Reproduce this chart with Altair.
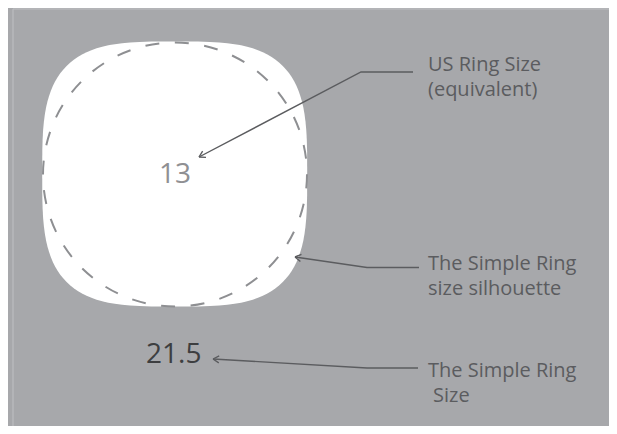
import math
import numpy as np
import pandas as pd
import altair as alt

# ---- diagram content (reference pixel coordinates) ----
silhouette_x = [174.7]
silhouette_y = [174.0]
circle_x = [175.0]
circle_y = [174.5]

value_text = ["13", "21.5"]
value_x = [175, 146]
value_y = [183, 363]

label_text = ["US Ring Size", "(equivalent)", "The Simple Ring", "size silhouette",
              "The Simple Ring", "Size"]
label_x = [428, 428, 428, 428, 428, 433]
label_y = [71, 96, 270, 295, 377, 402]

leader_id = [0, 0, 0, 1, 1, 1, 2, 2, 2]
leader_order = [0, 1, 2, 0, 1, 2, 0, 1, 2]
leader_x = [413, 361, 199, 419, 367, 295, 418, 367, 213]
leader_y = [72, 72, 157, 267.5, 267.5, 257, 368, 368, 359]

frame_x = [13, 13, 612]
frame_y = [9, 9, 440]

# ---- style ----
BG = "#a7a8ab"
FRAME = "#bfc0c3"
DASH = "#8e8f92"
INK = "#5b5c5f"
FONT = "Open Sans"
W, H = 601, 418
SIL = 265
CIRC = 264

xs = alt.Scale(domain=[8, 8 + W])
ys = alt.Scale(domain=[8, 8 + H], reverse=True)

def X(f="x"):
    return alt.X(f"{f}:Q", scale=xs, axis=None)

def Y(f="y"):
    return alt.Y(f"{f}:Q", scale=ys, axis=None)

# squircle outline path in unit box
n = 3.4
t = np.linspace(0, 2 * np.pi, 121)[:-1]
px = np.sign(np.cos(t)) * np.abs(np.cos(t)) ** (2 / n)
py = np.sign(np.sin(t)) * np.abs(np.sin(t)) ** (2 / n)
squircle = "M" + " L".join(f"{a:.4f},{b:.4f}" for a, b in zip(px, py)) + " Z"

# frame
frame_h = alt.Chart(pd.DataFrame({"x": [frame_x[0]], "x2": [frame_x[2]], "y": [frame_y[0]]})).mark_rule(
    color=FRAME, strokeWidth=1).encode(x=X(), x2="x2:Q", y=Y())
frame_v = alt.Chart(pd.DataFrame({"x": [frame_x[1]], "y": [frame_y[1]], "y2": [frame_y[2]]})).mark_rule(
    color=FRAME, strokeWidth=1).encode(x=X(), y=Y(), y2="y2:Q")
frame_r = alt.Chart(pd.DataFrame({"x": [frame_x[2]], "y": [frame_y[1]], "y2": [frame_y[2]]})).mark_rule(
    color=FRAME, strokeWidth=1).encode(x=X(), y=Y(), y2="y2:Q")

sil = alt.Chart(pd.DataFrame({"x": silhouette_x, "y": silhouette_y})).mark_point(
    shape=squircle, filled=True, fill="white", fillOpacity=1, strokeWidth=0, size=SIL * SIL, opacity=1
).encode(x=X(), y=Y())

circ = alt.Chart(pd.DataFrame({"x": circle_x, "y": circle_y})).mark_point(
    shape="circle", filled=False, stroke=DASH, strokeWidth=2, strokeDash=[14, 15.6],
    size=CIRC * CIRC, opacity=1
).encode(x=X(), y=Y())

vals = pd.DataFrame({"t": value_text, "x": value_x, "y": value_y})
v13 = alt.Chart(vals.iloc[[0]]).mark_text(
    font=FONT, fontSize=28, align="center", baseline="alphabetic", color="#8f9093"
).encode(x=X(), y=Y(), text="t:N")
v215 = alt.Chart(vals.iloc[[1]]).mark_text(
    font=FONT, fontSize=28, align="left", baseline="alphabetic", color="#3d3e40"
).encode(x=X(), y=Y(), text="t:N")

lead = pd.DataFrame({"id": leader_id, "o": leader_order, "x": leader_x, "y": leader_y})
lines = alt.Chart(lead).mark_line(color=INK, strokeWidth=1.4).encode(
    x=X(), y=Y(), detail="id:N", order="o:Q")

# arrowheads at the tips, rotated along the last segment
tips = []
for i in range(3):
    sx, sy = leader_x[3 * i + 1], leader_y[3 * i + 1]
    ex, ey = leader_x[3 * i + 2], leader_y[3 * i + 2]
    ang = (math.degrees(math.atan2(ey - sy, ex - sx)) - 180) % 360
    tips.append({"x": ex, "y": ey, "ang": ang})
heads = alt.Chart(pd.DataFrame(tips)).mark_point(
    shape="M0,0 L1,-0.6 M0,0 L1,0.6", filled=False, stroke=INK, strokeWidth=1.4,
    size=144, opacity=1
).encode(x=X(), y=Y(), angle=alt.Angle("ang:Q", scale=None))

labels = alt.Chart(pd.DataFrame({"t": label_text, "x": label_x, "y": label_y})).mark_text(
    font=FONT, fontSize=20, align="left", baseline="alphabetic", color=INK
).encode(x=X(), y=Y(), text="t:N")

chart = alt.layer(frame_h, frame_v, frame_r, sil, circ, v13, lines, heads, labels, v215).properties(
    width=W, height=H, autosize=alt.AutoSizeParams(type="none"), padding=0, background=BG
).configure_view(stroke=None)

chart.save("out.html", embed_options={"renderer": "svg", "actions": False})
